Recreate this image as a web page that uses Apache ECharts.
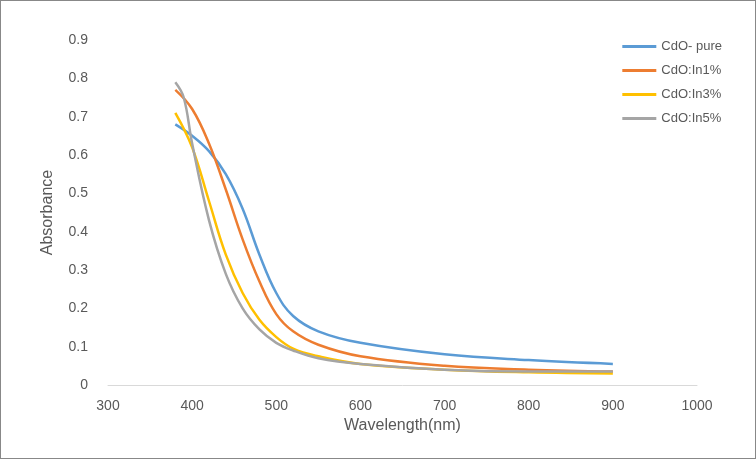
<!DOCTYPE html>
<html>
<head>
<meta charset="utf-8">
<script src="https://cdn.jsdelivr.net/npm/echarts@6/dist/echarts.min.js"></script>
<style>
  html, body { margin: 0; padding: 0; background: #fff; }
  #chart { width: 754px; height: 457px; border: 1px solid #888; }
</style>
</head>
<body>
<div id="chart"></div>
<script>
const seriesNames = ['CdO- pure', 'CdO:In1%', 'CdO:In3%', 'CdO:In5%'];
const seriesColors = ['#5b9bd5', '#ed7d31', '#ffc000', '#a5a5a5'];

const pureData = [[380, 0.68], [400, 0.65], [420, 0.61], [440, 0.55], [460, 0.46], [480, 0.34], [500, 0.24], [520, 0.18], [550, 0.14], [600, 0.11], [700, 0.08], [800, 0.065], [900, 0.055]];
const in1Data = [[380, 0.77], [400, 0.72], [420, 0.63], [440, 0.51], [460, 0.38], [480, 0.27], [500, 0.185], [520, 0.14], [550, 0.105], [600, 0.075], [700, 0.05], [800, 0.04], [900, 0.035]];
const in3Data = [[380, 0.71], [400, 0.62], [420, 0.48], [440, 0.34], [460, 0.24], [480, 0.17], [500, 0.125], [520, 0.095], [550, 0.075], [600, 0.055], [700, 0.04], [800, 0.033], [900, 0.03]];
const in5Data = [[380, 0.79], [390, 0.75], [400, 0.63], [420, 0.43], [440, 0.29], [460, 0.2], [480, 0.145], [500, 0.11], [520, 0.09], [550, 0.07], [600, 0.055], [700, 0.04], [800, 0.035], [900, 0.035]];

const allData = [pureData, in1Data, in3Data, in5Data];

const chart = echarts.init(document.getElementById('chart'));
const textColor = '#595959';

chart.setOption({
  animation: false,
  grid: { left: 107, right: 58, top: 39, bottom: 73 },
  legend: {
    orient: 'vertical',
    right: 28,
    top: 34,
    itemWidth: 34,
    itemHeight: 3,
    itemGap: 11,
    icon: 'rect',
    textStyle: { color: textColor, fontSize: 13, fontFamily: 'Liberation Sans' },
    data: seriesNames
  },
  xAxis: {
    type: 'value',
    min: 300,
    max: 1000,
    interval: 100,
    name: 'Wavelength(nm)',
    nameLocation: 'middle',
    nameGap: 32,
    nameTextStyle: { color: textColor, fontSize: 16, fontFamily: 'Liberation Sans' },
    axisLine: { lineStyle: { color: '#d9d9d9' } },
    axisTick: { show: false },
    splitLine: { show: false },
    axisLabel: { color: textColor, fontSize: 14, fontFamily: 'Liberation Sans', margin: 14,
      formatter: v => String(v) }
  },
  yAxis: {
    type: 'value',
    min: 0,
    max: 0.9,
    interval: 0.1,
    name: 'Absorbance',
    nameLocation: 'middle',
    nameGap: 52,
    nameTextStyle: { color: textColor, fontSize: 16, fontFamily: 'Liberation Sans' },
    axisLine: { show: false },
    axisTick: { show: false },
    splitLine: { show: false },
    axisLabel: { color: textColor, fontSize: 14, fontFamily: 'Liberation Sans', margin: 20,
      formatter: v => (Math.round(v * 10) / 10).toString() }
  },
  series: seriesNames.map((name, i) => ({
    name: name,
    type: 'line',
    smooth: 0.4,
    symbol: 'none',
    data: allData[i],
    lineStyle: { color: seriesColors[i], width: 2.5 },
    itemStyle: { color: seriesColors[i] }
  }))
});
</script>
</body>
</html>
